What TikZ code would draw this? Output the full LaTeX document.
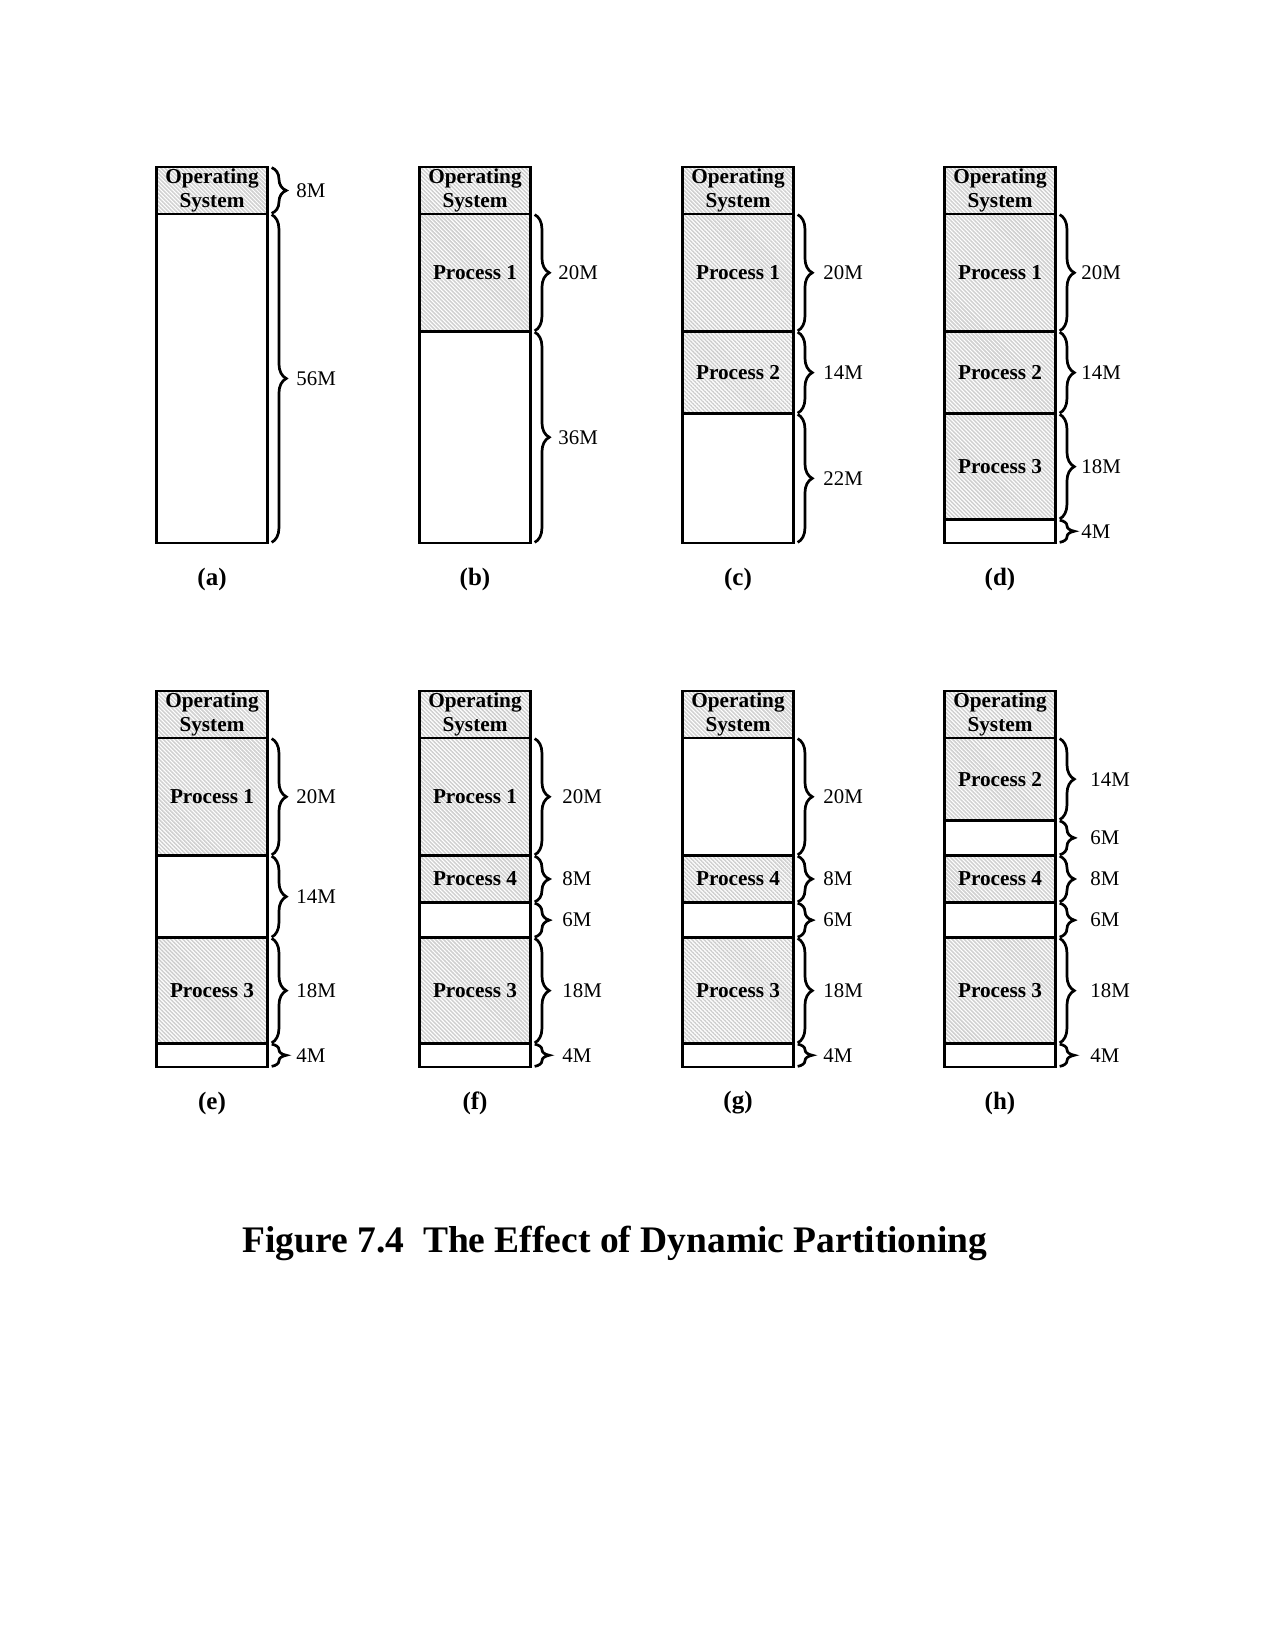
\documentclass[tikz,border=0pt]{standalone}
\usepackage{fontspec}
\setmainfont{Liberation Serif}
\usetikzlibrary{patterns.meta,decorations.pathreplacing}
\tikzset{
  seg/.style={draw,line width=1.3pt,inner sep=0pt,outer sep=0pt,minimum width=111*0.48pt,
    font=\bfseries\fontsize{10.2}{11.5}\selectfont,align=center},
  hat/.style={pattern={Lines[angle=-45,distance=1.36pt,line width=0.7pt]},pattern color=gray!38},
  free/.style={fill=white},
  bracestyle/.style={decorate,decoration={brace,amplitude=7pt},line width=1.3pt},
  sizelabel/.style={anchor=west,inner sep=0pt,font=\fontsize{10}{12}\selectfont},
  caplabel/.style={font=\bfseries\fontsize{12}{14}\selectfont,inner sep=0pt}
}
\newcommand\memcol[6]{% #1 name, #2 x, #3 ytop, #4 label offset, #5 caption, #6 list
  \xdef\cury{#3}%
  \foreach \s/\k/\t/\b [count=\i] in {#6} {%
    \pgfmathsetmacro\h{\s*5.875}%
    \pgfmathsetmacro\yc{\cury+\h/2}%
    \node[seg,\k,minimum height=\h*0.48pt] (#1\i) at (#2+57,\yc) {\t};
    \ifnum\b=1
      \draw[bracestyle] ([xshift=2pt,yshift=-0.3pt]#1\i.north east) -- ([xshift=2pt,yshift=0.3pt]#1\i.south east);
      \node[sizelabel] (#1\i l) at (#2+114+#4,\yc) {\s M};
    \fi
    \pgfmathsetmacro\ny{\cury+\h}%
    \xdef\cury{\ny}%
  }
  \node[caplabel] (#1cap) at (#2+57,#3+412) {#5};
}
\begin{document}
\begin{tikzpicture}[x=0.48pt,y=-0.48pt]
\useasboundingbox (0,0) rectangle (1275,1650);
\fill[white] (0,0) rectangle (1275,1650);
% row 1
\memcol{a}{155}{167}{27}{(a)}{8/hat/Operating\\System/1, 56/free//1}
\memcol{b}{418}{167}{26}{(b)}{8/hat/Operating\\System/0, 20/hat/Process 1/1, 36/free//1}
\memcol{c}{681}{167}{28}{(c)}{8/hat/Operating\\System/0, 20/hat/Process 1/1, 14/hat/Process 2/1, 22/free//1}
\memcol{d}{943}{167}{24}{(d)}{8/hat/Operating\\System/0, 20/hat/Process 1/1, 14/hat/Process 2/1, 18/hat/Process 3/1, 4/free//1}
% row 2
\memcol{e}{155}{691}{27}{(e)}{8/hat/Operating\\System/0, 20/hat/Process 1/1, 14/free//1, 18/hat/Process 3/1, 4/free//1}
\memcol{f}{418}{691}{30}{(f)}{8/hat/Operating\\System/0, 20/hat/Process 1/1, 8/hat/Process 4/1, 6/free//1, 18/hat/Process 3/1, 4/free//1}
\memcol{g}{681}{691}{28}{(g)}{8/hat/Operating\\System/0, 20/free//1, 8/hat/Process 4/1, 6/free//1, 18/hat/Process 3/1, 4/free//1}
\memcol{h}{943}{691}{33}{(h)}{8/hat/Operating\\System/0, 14/hat/Process 2/1, 6/free//1, 8/hat/Process 4/1, 6/free//1, 18/hat/Process 3/1, 4/free//1}
% title
\node[anchor=base,inner sep=0pt,font=\bfseries\fontsize{18}{22}\selectfont] (title) at (615,1252)
  {Figure 7.4\hspace{0.5em}The Effect of Dynamic Partitioning};
\end{tikzpicture}
\end{document}
